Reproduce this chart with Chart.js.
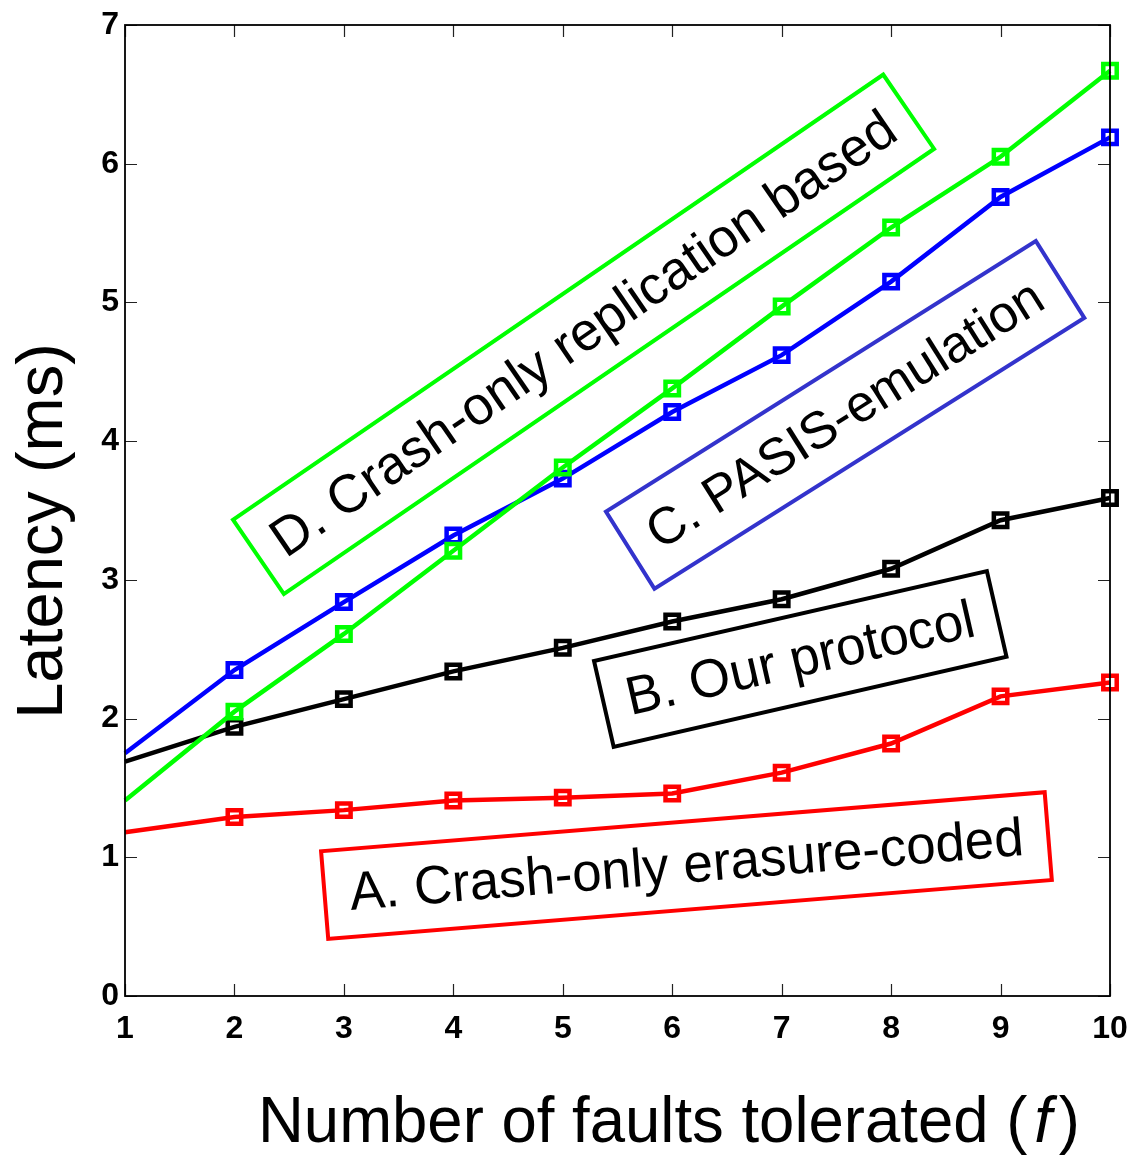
<!DOCTYPE html>
<html>
<head>
<meta charset="utf-8">
<title>Latency vs faults tolerated</title>
<script src="https://cdn.jsdelivr.net/npm/chart.js@4.4.1/dist/chart.umd.min.js"></script>
<style>
    body { margin: 0; background: #fff; }
    canvas { display: block; }
</style>
</head>
<body>
<canvas id="grafico" width="1136" height="1155"></canvas>
<script>
// Datos
const fallas = [1, 2, 3, 4, 5, 6, 7, 8, 9, 10];
const serieA = [1.18, 1.29, 1.34, 1.41, 1.43, 1.46, 1.61, 1.82, 2.16, 2.26]; // A. Crash-only erasure-coded
const serieB = [1.69, 1.94, 2.14, 2.34, 2.51, 2.70, 2.86, 3.08, 3.43, 3.59]; // B. Our protocol
const serieC = [1.75, 2.35, 2.84, 3.32, 3.73, 4.21, 4.62, 5.15, 5.76, 6.19]; // C. PASIS-emulation
const serieD = [1.41, 2.05, 2.61, 3.21, 3.81, 4.38, 4.97, 5.54, 6.05, 6.67]; // D. Crash-only replication based
const ticksX = [1, 2, 3, 4, 5, 6, 7, 8, 9, 10];
const ticksY = [0, 1, 2, 3, 4, 5, 6, 7];

const FUENTE = '"Liberation Sans", Arial, sans-serif';

// Cajas con etiquetas (centro en unidades de datos)
const anotaciones = [
    { texto: 'D. Crash-only replication based', x: 5.19, y: 4.77, ancho: 788, alto: 90, angulo: -34.4, color: '#00ff00', fuente: 54, largo: 745 },
    { texto: 'C. PASIS-emulation', x: 7.58, y: 4.19, ancho: 508, alto: 91, angulo: -32.2, color: '#3333cc', fuente: 52, largo: 458 },
    { texto: 'B. Our protocol', x: 7.17, y: 2.43, ancho: 403, alto: 88, angulo: -12.9, color: '#000000', fuente: 54, largo: 356 },
    { texto: 'A. Crash-only erasure-coded', x: 6.13, y: 0.94, ancho: 726, alto: 88, angulo: -4.66, color: '#ff0000', fuente: 54, largo: 676 }
];

function puntos(serie) {
    return fallas.map(function(f, i) { return { x: f, y: serie[i] }; });
}

function crearSerie(serie, color) {
    return {
        data: puntos(serie),
        borderColor: color,
        borderWidth: 4.5,
        pointStyle: 'rect',
        pointRadius: function(c) { return c.dataIndex === 0 ? 0 : 9.5; },
        pointBorderWidth: 4.5,
        pointBorderColor: color,
        pointBackgroundColor: 'rgba(0,0,0,0)',
        tension: 0,
        clip: false
    };
}

// Marco, marcas de los ejes hacia adentro
const marcoPlugin = {
    id: 'marco',
    afterDatasetsDraw: function(chart) {
        const ctx = chart.ctx;
        const a = chart.chartArea;
        const xs = chart.scales.x;
        const ys = chart.scales.y;
        const largo = 12;
        ctx.save();
        ctx.strokeStyle = '#222';
        ctx.lineWidth = 1.2;
        ctx.beginPath();
        ticksX.forEach(function(v) {
            const px = Math.round(xs.getPixelForValue(v)) + 0.5;
            ctx.moveTo(px, a.bottom); ctx.lineTo(px, a.bottom - largo);
            ctx.moveTo(px, a.top); ctx.lineTo(px, a.top + largo);
        });
        ticksY.forEach(function(v) {
            const py = Math.round(ys.getPixelForValue(v)) + 0.5;
            ctx.moveTo(a.left, py); ctx.lineTo(a.left + largo, py);
            ctx.moveTo(a.right, py); ctx.lineTo(a.right - largo, py);
        });
        ctx.stroke();
        ctx.strokeStyle = '#000';
        ctx.lineWidth = 1.8;
        ctx.strokeRect(a.left, a.top, a.right - a.left, a.bottom - a.top);
        ctx.restore();
    }
};

// Cajas giradas con texto
const cajasPlugin = {
    id: 'cajas',
    afterDraw: function(chart) {
        const ctx = chart.ctx;
        const xs = chart.scales.x;
        const ys = chart.scales.y;
        anotaciones.forEach(function(an) {
            const cx = xs.getPixelForValue(an.x);
            const cy = ys.getPixelForValue(an.y);
            ctx.save();
            ctx.translate(cx, cy);
            ctx.rotate(an.angulo * Math.PI / 180);
            ctx.lineWidth = 4;
            ctx.strokeStyle = an.color;
            ctx.strokeRect(-an.ancho / 2, -an.alto / 2, an.ancho, an.alto);
            ctx.font = an.fuente + 'px ' + FUENTE;
            const w = ctx.measureText(an.texto).width;
            ctx.scale(an.largo / w, 1);
            ctx.fillStyle = '#000';
            ctx.textAlign = 'center';
            ctx.textBaseline = 'middle';
            ctx.fillText(an.texto, 0, 2);
            ctx.restore();
        });
    }
};

// Titulos de los ejes
const titulosPlugin = {
    id: 'titulos',
    afterDraw: function(chart) {
        const ctx = chart.ctx;
        ctx.save();
        ctx.fillStyle = '#000';
        ctx.textBaseline = 'alphabetic';

        // eje Y
        ctx.save();
        ctx.translate(62, 531);
        ctx.rotate(-Math.PI / 2);
        ctx.font = '65px ' + FUENTE;
        ctx.textAlign = 'center';
        ctx.fillText('Latency (ms)', 0, 0);
        ctx.restore();

        // eje X, con la f en cursiva
        const normal = '64px ' + FUENTE;
        const cursiva = 'italic 64px ' + FUENTE;
        const p1 = 'Number of faults tolerated (';
        const p2 = 'f';
        const p3 = ')';
        const hueco = 7;
        ctx.font = normal;
        const w1 = ctx.measureText(p1).width;
        const w3 = ctx.measureText(p3).width;
        ctx.font = cursiva;
        const w2 = ctx.measureText(p2).width;
        const total = w1 + hueco + w2 + hueco + w3;
        ctx.translate(258, 1142);
        ctx.scale(822 / total, 1);
        ctx.textAlign = 'left';
        ctx.font = normal;
        ctx.fillText(p1, 0, 0);
        ctx.font = cursiva;
        ctx.fillText(p2, w1 + hueco, 0);
        ctx.font = normal;
        ctx.fillText(p3, w1 + hueco + w2 + hueco, 0);
        ctx.restore();
    }
};

document.addEventListener('DOMContentLoaded', function() {
    const ctx = document.getElementById('grafico');

    new Chart(ctx, {
        type: 'line',
        data: {
            // el primero queda encima
            datasets: [
                crearSerie(serieD, '#00ff00'),
                crearSerie(serieC, '#0000ff'),
                crearSerie(serieB, '#000000'),
                crearSerie(serieA, '#ff0000')
            ]
        },
        options: {
            responsive: false,
            animation: false,
            layout: { padding: { top: 25, right: 26, left: 0, bottom: 0 } },
            plugins: {
                legend: { display: false },
                tooltip: { enabled: false }
            },
            scales: {
                x: {
                    type: 'linear',
                    min: 1,
                    max: 10,
                    afterFit: function(s) {
                        s.height = 159;
                        s.paddingLeft = 0;
                        s.paddingRight = 0;
                    },
                    grid: { display: false, drawTicks: false },
                    border: { display: false },
                    afterBuildTicks: function(s) { s.ticks = ticksX.map(function(v) { return { value: v }; }); },
                    ticks: {
                        autoSkip: false,
                        maxRotation: 0,
                        padding: 14,
                        color: '#000',
                        font: { size: 32, weight: 'bold', family: FUENTE }
                    }
                },
                y: {
                    type: 'linear',
                    min: 0,
                    max: 7,
                    afterFit: function(s) {
                        s.width = 125;
                        s.paddingTop = 0;
                        s.paddingBottom = 0;
                    },
                    grid: { display: false, drawTicks: false },
                    border: { display: false },
                    afterBuildTicks: function(s) { s.ticks = ticksY.map(function(v) { return { value: v }; }); },
                    ticks: {
                        autoSkip: false,
                        padding: 6,
                        color: '#000',
                        font: { size: 32, weight: 'bold', family: FUENTE }
                    }
                }
            }
        },
        plugins: [marcoPlugin, cajasPlugin, titulosPlugin]
    });
});
</script>
</body>
</html>
